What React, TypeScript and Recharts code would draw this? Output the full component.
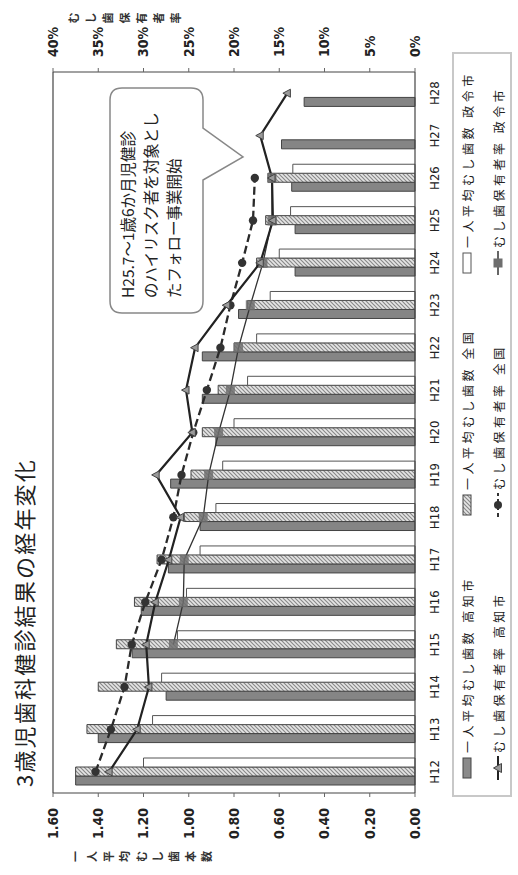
import React from 'react';
import { ComposedChart, Bar, Line, XAxis, YAxis, ReferenceLine } from 'recharts';

const categories = ['H12', 'H13', 'H14', 'H15', 'H16', 'H17', 'H18', 'H19', 'H20', 'H21', 'H22', 'H23', 'H24', 'H25', 'H26', 'H27', 'H28'];
const kochiAvg = [1.5, 1.4, 1.1, 1.25, 1.21, 1.09, 0.95, 1.08, 0.88, 0.94, 0.94, 0.78, 0.53, 0.53, 0.545, 0.59, 0.49];
const nationalAvg = [1.5, 1.45, 1.4, 1.32, 1.24, 1.14, 1.02, 0.99, 0.94, 0.87, 0.8, 0.74, 0.7, 0.66, 0.65, null, null];
const cityAvg = [1.2, 1.16, 1.12, 1.05, 1.01, 0.95, 0.88, 0.85, 0.8, 0.74, 0.7, 0.64, 0.6, 0.55, 0.54, null, null];
const kochiRate = [33.8, 30.7, 29.4, 29.7, 28.7, 27.2, 25.9, 28.6, 24.6, 25.3, 24.3, 20.8, 17.1, 15.7, 15.8, 17.1, 14.1];
const nationalRate = [35.3, 33.6, 32.1, 31.3, 29.8, 28.0, 26.7, 25.8, 24.5, 23.0, 21.5, 20.4, 19.1, 17.9, 17.7, null, null];
const cityRate = [null, null, null, 26.7, 25.6, 25.5, 23.4, 22.8, 21.7, 20.4, 19.5, 18.2, 16.8, 15.8, 15.8, null, null];
const avgTicks = [0, 0.2, 0.4, 0.6, 0.8, 1.0, 1.2, 1.4, 1.6];
const rateTicks = [0, 5, 10, 15, 20, 25, 30, 35, 40];

const title = '3歳児歯科健診結果の経年変化';
const leftTitle = '一人平均むし歯本数';
const rightTitle = 'むし歯保有者率';
const noteLines = ['H25.7～1歳6か月児健診', 'のハイリスク者を対象とし', 'たフォロー事業開始'];
const legendLabels = [
  '一人平均むし歯数 高知市',
  '一人平均むし歯数 全国',
  '一人平均むし歯数 政令市',
  'むし歯保有者率 高知市',
  'むし歯保有者率 全国',
  'むし歯保有者率 政令市',
];

const JP = "'Noto Sans CJK JP', 'Noto Sans', sans-serif";
const NUM = "'Liberation Sans Narrow', 'DejaVu Sans Condensed', 'Liberation Sans', Arial, sans-serif";

const data = categories.map((c, i) => ({
  cat: c,
  kochiAvg: kochiAvg[i],
  nationalAvg: nationalAvg[i],
  cityAvg: cityAvg[i],
  kochiRate: kochiRate[i],
  nationalRate: nationalRate[i],
  cityRate: cityRate[i],
}));

const TriDot = (p: any) => {
  const { cx, cy, index } = p;
  if (cx == null || cy == null || isNaN(cy)) return <g key={`t${index}`} />;
  return <polygon key={`t${index}`} points={`${cx},${cy - 4.5} ${cx + 4},${cy + 3} ${cx - 4},${cy + 3}`} fill="#9a9a9a" stroke="#444" strokeWidth={1} />;
};
const CircDot = (p: any) => {
  const { cx, cy, index } = p;
  if (cx == null || cy == null || isNaN(cy)) return <g key={`c${index}`} />;
  return <circle key={`c${index}`} cx={cx} cy={cy} r={4.2} fill="#333" />;
};
const SqDot = (p: any) => {
  const { cx, cy, index } = p;
  if (cx == null || cy == null || isNaN(cy)) return <g key={`s${index}`} />;
  return <rect key={`s${index}`} x={cx - 5} y={cy - 4.5} width={10} height={9} fill="#6e6e6e" fillOpacity={0.85} />;
};

const Swatch = ({ kind }: { kind: number }) => {
  return (
    <svg width={24} height={12} style={{ marginRight: 3, flex: 'none' }}>
      <defs>
        <pattern id={`lg${kind}`} patternUnits="userSpaceOnUse" width={4} height={4}>
          <rect width={4} height={4} fill="#e6e6e6" />
          <path d="M0,4 L4,0 M-1,1 L1,-1 M3,5 L5,3" stroke="#8a8a8a" strokeWidth={1.2} />
        </pattern>
      </defs>
      {kind === 0 && <rect x={2} y={2} width={20} height={8} fill="#8a8a8a" stroke="#444" />}
      {kind === 1 && <rect x={2} y={2} width={20} height={8} fill={`url(#lg${kind})`} stroke="#444" />}
      {kind === 2 && <rect x={2} y={2} width={20} height={8} fill="#fff" stroke="#555" />}
      {kind === 3 && (
        <g>
          <line x1={0} y1={6} x2={24} y2={6} stroke="#222" strokeWidth={2} />
          <polygon points="12,1.5 16.5,9.5 7.5,9.5" fill="#9a9a9a" stroke="#444" />
        </g>
      )}
      {kind === 4 && (
        <g>
          <line x1={0} y1={6} x2={24} y2={6} stroke="#333" strokeWidth={2} strokeDasharray="4 3" />
          <circle cx={12} cy={6} r={4} fill="#333" />
        </g>
      )}
      {kind === 5 && (
        <g>
          <line x1={0} y1={6} x2={24} y2={6} stroke="#333" strokeWidth={1.5} />
          <rect x={7.5} y={1.5} width={9} height={9} fill="#6e6e6e" />
        </g>
      )}
    </svg>
  );
};

const legendPos = [
  { left: 95, top: 459 },
  { left: 358, top: 459 },
  { left: 600, top: 459 },
  { left: 95, top: 490 },
  { left: 358, top: 490 },
  { left: 600, top: 490 },
];

export default function App() {
  return (
    <div style={{ position: 'absolute', left: 0, top: 0, width: 518, height: 875, overflow: 'hidden', background: '#fff' }}>
      <div
        style={{
          position: 'absolute',
          left: 0,
          top: 0,
          width: 875,
          height: 518,
          transformOrigin: '0 0',
          transform: 'translateY(875px) rotate(-90deg)',
          background: '#fff',
        }}
      >
        <div style={{ position: 'absolute', left: 88, top: 8, fontFamily: JP, fontSize: 22, letterSpacing: 2.2, color: '#222', lineHeight: '30px', whiteSpace: 'nowrap' }}>
          {title}
        </div>

        <ComposedChart
          width={875}
          height={518}
          data={data}
          margin={{ top: 53, right: 0, bottom: 73, left: 0 }}
          barGap={0}
          style={{ position: 'absolute', left: 0, top: 0 }}
        >
          <defs>
            <pattern id="hatch" patternUnits="userSpaceOnUse" width={4} height={4}>
              <rect width={4} height={4} fill="#e6e6e6" />
              <path d="M0,4 L4,0 M-1,1 L1,-1 M3,5 L5,3" stroke="#8a8a8a" strokeWidth={1.2} />
            </pattern>
          </defs>
          <XAxis
            dataKey="cat"
            height={30}
            interval={0}
            tickLine={false}
            tickSize={0}
            tickMargin={15}
            axisLine={{ stroke: '#444', strokeWidth: 1.2 }}
            tick={{ fontSize: 13, fill: '#222', fontFamily: NUM }}
          />
          <YAxis
            yAxisId="left"
            orientation="left"
            width={82}
            domain={[0, 1.6]}
            ticks={avgTicks}
            interval={0}
            tickSize={4}
            tickMargin={11}
            tickFormatter={(v: number) => v.toFixed(2)}
            axisLine={{ stroke: '#444', strokeWidth: 1.2 }}
            tickLine={{ stroke: '#666' }}
            tick={{ fontSize: 14, fontWeight: 700, fill: '#222', fontFamily: NUM }}
          />
          <YAxis
            yAxisId="right"
            orientation="right"
            width={72}
            domain={[0, 40]}
            ticks={rateTicks}
            interval={0}
            tickSize={4}
            tickMargin={11}
            tickFormatter={(v: number) => `${v}%`}
            axisLine={{ stroke: '#444', strokeWidth: 1.2 }}
            tickLine={{ stroke: '#666' }}
            tick={{ fontSize: 14, fontWeight: 700, fill: '#222', fontFamily: NUM }}
          />
          <ReferenceLine yAxisId="left" y={1.6} stroke="#444" strokeWidth={1.2} />
          <Bar yAxisId="left" dataKey="kochiAvg" barSize={9} fill="#858585" stroke="#444" strokeWidth={1} isAnimationActive={false} />
          <Bar yAxisId="left" dataKey="nationalAvg" barSize={9} fill="url(#hatch)" stroke="#444" strokeWidth={1} isAnimationActive={false} />
          <Bar yAxisId="left" dataKey="cityAvg" barSize={9} fill="#ffffff" stroke="#555" strokeWidth={1} isAnimationActive={false} />
          <Line yAxisId="right" type="linear" dataKey="cityRate" stroke="#333" strokeWidth={1.3} dot={SqDot} activeDot={false} isAnimationActive={false} />
          <Line yAxisId="right" type="linear" dataKey="nationalRate" stroke="#2a2a2a" strokeWidth={2.3} strokeDasharray="8 4" dot={CircDot} activeDot={false} isAnimationActive={false} />
          <Line yAxisId="right" type="linear" dataKey="kochiRate" stroke="#222" strokeWidth={2.2} dot={TriDot} activeDot={false} isAnimationActive={false} />
        </ComposedChart>

        <svg width={875} height={518} style={{ position: 'absolute', left: 0, top: 0, pointerEvents: 'none' }}>
          <path
            d="M574,110 H775 Q787,110 787,122 V191 Q787,203 775,203 H747 L718,243 L695,203 H574 Q562,203 562,191 V122 Q562,110 574,110 Z"
            fill="#fff"
            stroke="#888"
            strokeWidth={1.5}
          />
          {noteLines.map((t, i) => (
            <text key={i} x={577} y={134 + i * 23} fontSize={15.5} fontFamily={JP} fill="#222">
              {t}
            </text>
          ))}
          {leftTitle.split('').map((ch, i) => (
            <text key={`l${i}`} x={18.5} y={80 + i * 16.4} fontSize={11} fontWeight={700} fontFamily={JP} fill="#333" textAnchor="middle">
              {ch}
            </text>
          ))}
          {rightTitle.split('').map((ch, i) => (
            <text key={`r${i}`} x={857} y={78 + i * 17} fontSize={11} fontWeight={700} fontFamily={JP} fill="#333" textAnchor="middle">
              {ch}
            </text>
          ))}
        </svg>

        <div style={{ position: 'absolute', left: 78, top: 452, width: 745, height: 60, border: '2px solid #c8c8c8', boxSizing: 'border-box' }} />
        {legendLabels.map((t, i) => (
          <div
            key={i}
            style={{
              position: 'absolute',
              left: legendPos[i].left,
              top: legendPos[i].top,
              display: 'flex',
              alignItems: 'center',
              height: 16,
              fontFamily: JP,
              fontSize: 12,
              letterSpacing: 3.5,
              color: '#222',
              whiteSpace: 'nowrap',
            }}
          >
            <Swatch kind={i} />
            <span>{t}</span>
          </div>
        ))}
      </div>
    </div>
  );
}
